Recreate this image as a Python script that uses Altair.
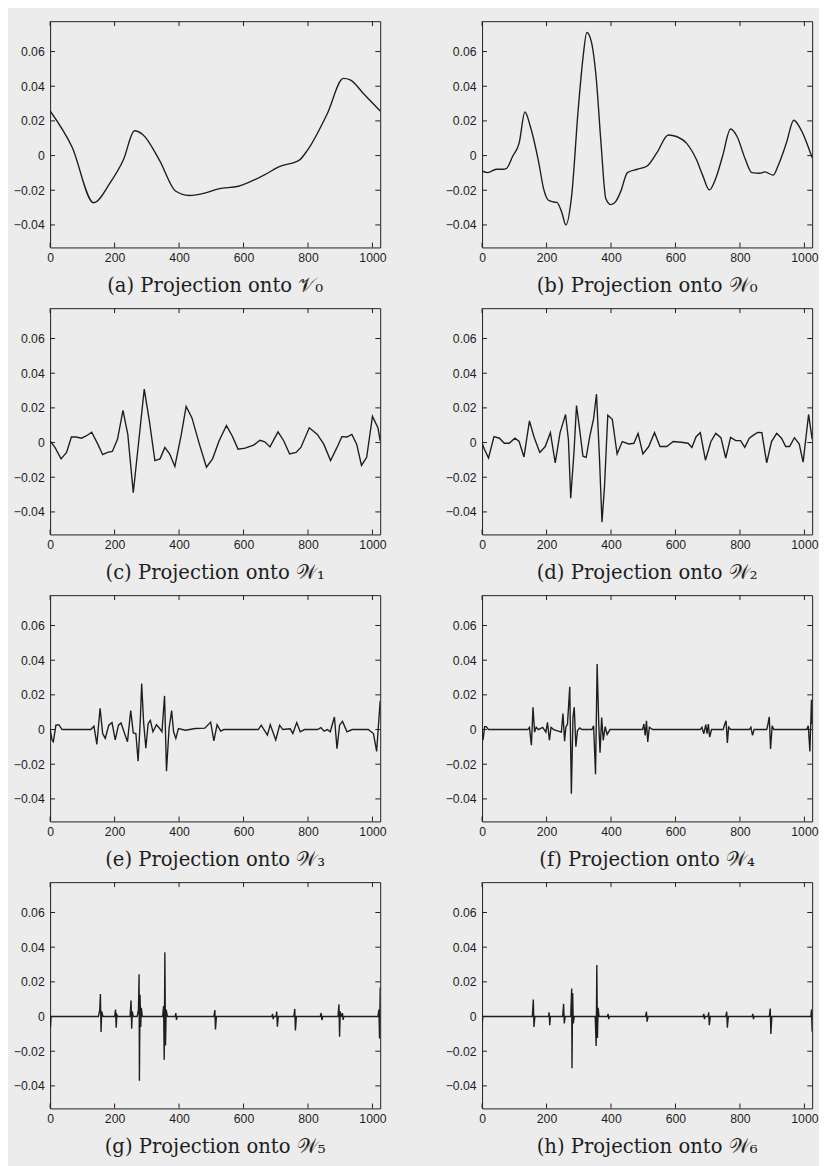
import altair as alt
import pandas as pd

# ---------------- data ----------------
captions = [
    "(a) Projection onto 𝒱₀", "(b) Projection onto 𝒲₀",
    "(c) Projection onto 𝒲₁", "(d) Projection onto 𝒲₂",
    "(e) Projection onto 𝒲₃", "(f) Projection onto 𝒲₄",
    "(g) Projection onto 𝒲₅", "(h) Projection onto 𝒲₆",
]
x_ticks = [0, 200, 400, 600, 800, 1000]
y_ticks = [-0.04, -0.02, 0, 0.02, 0.04, 0.06]

a_x = [0, 68, 135, 186, 227, 262, 288, 339, 390, 431, 482, 522, 584, 665, 711, 773, 798, 859, 910, 931, 971, 1024]
a_y = [0.0257, 0.0049, -0.0272, -0.0158, -0.0026, 0.0143, 0.012, -0.0026, -0.0206, -0.023, -0.0215, -0.0192,
       -0.0177, -0.0111, -0.0064, -0.0026, 0.003, 0.0238, 0.0445, 0.0436, 0.036, 0.0257]

b_x = [0, 18, 44, 64, 75, 95, 115, 133, 150, 176, 191, 206, 222, 232, 247, 260, 278, 298, 313, 325, 339, 354,
       369, 384, 400, 415, 430, 451, 481, 512, 542, 578, 603, 634, 665, 685, 705, 726, 746, 771, 791, 817, 837,
       862, 877, 903, 918, 944, 967, 990, 1024]
b_y = [-0.0089, -0.0098, -0.0079, -0.0079, -0.0075, -0.0004, 0.0072, 0.0251, 0.0166, -0.0042, -0.0192, -0.0258,
       -0.0268, -0.027, -0.0325, -0.04, -0.023, 0.026, 0.0562, 0.071, 0.0657, 0.0449, 0.0072, -0.0249, -0.0283,
       -0.0264, -0.0208, -0.0098, -0.0079, -0.006, 0.0015, 0.0119, 0.011, 0.0072, -0.0023, -0.0117, -0.0198,
       -0.0126, -0.0004, 0.0153, 0.011, -0.0023, -0.0098, -0.0102, -0.0094, -0.0113, -0.006, 0.0072, 0.0204,
       0.0147, -0.0013]

c_x = [0, 15, 34, 51, 66, 81, 97, 112, 129, 148, 163, 178, 193, 209, 226, 241, 258, 275, 292, 308, 325, 341,
       356, 371, 387, 407, 422, 440, 463, 485, 504, 524, 547, 565, 583, 605, 631, 651, 666, 682, 707, 725, 743,
       763, 778, 804, 829, 849, 870, 890, 905, 921, 936, 951, 966, 982, 1000, 1017, 1024]
c_y = [0.001, -0.0028, -0.0094, -0.0057, 0.0032, 0.0032, 0.0025, 0.0038, 0.006, -0.0009, -0.007, -0.0057,
       -0.0051, 0.0019, 0.0185, 0.0047, -0.0289, 0.0009, 0.0308, 0.0123, -0.0104, -0.0094, -0.0028, -0.0066,
       -0.0138, 0.0047, 0.0209, 0.0142, -0.0009, -0.0142, -0.0094, 0.0009, 0.0098, 0.0038, -0.0038, -0.0032,
       -0.0015, 0.0013, 0.0004, -0.0025, 0.0062, 0.0009, -0.0066, -0.0057, -0.0028, 0.0085, 0.0047, -0.0009,
       -0.0104, -0.0028, 0.0034, 0.0032, 0.0047, -0.0009, -0.0132, -0.0085, 0.0151, 0.0085, 0.001]

d_x = [0, 8, 20, 37, 54, 69, 84, 102, 115, 130, 147, 161, 179, 196, 212, 227, 242, 252, 259, 268, 275, 285,
       293, 303, 313, 323, 334, 346, 355, 364, 372, 380, 390, 404, 419, 435, 455, 471, 484, 499, 517, 535, 552,
       573, 593, 618, 639, 651, 664, 677, 693, 710, 725, 741, 756, 771, 787, 802, 815, 829, 842, 855, 868, 883,
       898, 914, 929, 942, 954, 969, 984, 996, 1013, 1024]
d_y = [-0.0004, -0.0042, -0.0089, 0.0034, 0.0025, -0.0004, -0.0004, 0.0025, 0.0006, -0.0083, 0.0125, 0.0034,
       -0.0057, -0.0023, 0.0057, -0.0117, 0.0057, 0.0119, 0.0162, 0.0015, -0.0321, -0.006, 0.0213, 0.0072,
       -0.0079, -0.0085, 0.0034, 0.0138, 0.0279, -0.0079, -0.046, -0.0249, 0.0157, 0.0134, -0.0066, 0.0006,
       -0.0008, -0.0004, 0.0053, -0.0066, -0.0023, 0.0057, -0.0023, -0.0023, 0.0006, 0.0002, -0.0004, -0.0028,
       0.0034, 0.0057, -0.0102, 0.0006, 0.0053, 0.0028, -0.0089, 0.003, 0.0011, 0.0011, -0.0028, 0.0025, 0.0043,
       0.0058, 0.0057, -0.0117, 0.0006, 0.0053, 0.0025, -0.0023, -0.0023, 0.0028, -0.0009, -0.0113, 0.0162, 0.002]

e_x = [0, 6, 10, 18, 27, 37, 126, 136, 145, 155, 163, 171, 182, 192, 202, 212, 220, 231, 240, 250, 258, 266,
       273, 280, 284, 290, 297, 304, 311, 319, 330, 340, 347, 355, 361, 369, 377, 383, 390, 398, 420, 450, 480,
       498, 508, 518, 529, 539, 646, 655, 674, 683, 700, 712, 722, 745, 753, 765, 776, 789, 830, 840, 850, 860,
       869, 882, 890, 898, 907, 921, 937, 987, 1003, 1013, 1020, 1024]
e_y = [0, -0.006, -0.007, 0.0025, 0.0028, 0, 0, 0.0019, -0.0085, 0.0123, -0.0023, -0.0051, 0.0025, 0.004,
       -0.006, 0.0025, 0.0038, -0.0023, -0.007, 0.0109, -0.0019, -0.0023, -0.0183, 0.0062, 0.0266, 0.0043,
       -0.0108, 0.0034, 0.0053, -0.0013, 0.0028, 0.0006, -0.0013, 0.0194, -0.024, 0.0006, 0.0109, -0.0013,
       -0.0051, 0.0006, -0.0004, 0.0006, 0.0008, 0.0043, -0.0066, 0.0028, -0.0009, 0, 0, 0.0025, -0.0032,
       0.0028, -0.006, 0.0025, 0, 0.0004, -0.0023, 0.004, -0.0013, 0, 0, 0.0011, -0.0009, 0, -0.0013, 0.0072,
       -0.0111, 0.0025, 0.0047, -0.0013, 0, 0, -0.0023, -0.0126, 0.0062, 0.0166]

f_x = [0, 3, 8, 13, 20, 142, 147, 153, 158, 163, 168, 175, 188, 198, 203, 209, 214, 222, 246, 251, 256, 260,
       265, 272, 277, 282, 286, 291, 296, 303, 310, 341, 346, 352, 357, 362, 366, 371, 376, 382, 388, 397, 498,
       502, 506, 510, 514, 519, 529, 677, 682, 688, 694, 698, 702, 706, 712, 748, 753, 757, 761, 765, 771, 829,
       834, 839, 844, 883, 887, 891, 895, 900, 905, 1007, 1012, 1017, 1022, 1024]
f_y = [0, -0.0062, 0.0017, 0.0017, 0, 0, 0.0013, -0.009, 0.0129, -0.0015, 0.0013, 0, 0.0013, -0.0015, 0.0041,
       -0.0062, 0.0013, 0, -0.0015, 0.0092, -0.0067, 0.0013, 0.0032, 0.0247, -0.037, 0.0069, 0.0129, -0.0099,
       -0.0006, 0.0009, 0, 0, 0.0022, -0.0258, 0.0378, 0.0032, -0.0133, 0.0069, -0.0062, 0.0017, -0.0028, 0, 0,
       0.0032, -0.0034, 0.005, -0.0071, 0.0013, 0, 0, 0.0013, -0.0024, 0.0028, -0.0024, 0.0032, -0.0043, 0, 0,
       0.0032, 0.005, -0.0077, 0.0013, 0, 0, 0.0013, -0.0034, 0, 0, 0.0032, 0.0073, -0.0112, 0.0022, 0, 0,
       0.0022, -0.0127, 0.0172, 0.003]

g_x = [0, 1, 3, 150, 154, 156, 158, 160, 164, 200, 203, 205, 207, 210, 248, 251, 253, 255, 258, 270, 274, 276,
       277, 279, 281, 283, 286, 349, 352, 354, 356, 358, 360, 364, 388, 390, 392, 394, 508, 511, 513, 516, 688,
       690, 692, 694, 701, 703, 705, 708, 756, 759, 761, 764, 838, 841, 843, 846, 893, 896, 898, 900, 903, 905,
       907, 909, 911, 1017, 1020, 1022, 1024]
g_y = [0, -0.0065, 0, 0, 0.004, 0.013, -0.0089, 0.003, 0, 0, 0.004, -0.0065, 0.001, 0, 0, 0.0093, -0.007,
       0.003, 0, 0, 0.004, 0.0244, -0.037, 0.0126, -0.006, 0.005, 0, 0, 0.006, -0.025, 0.037, -0.0167, 0.004, 0,
       0, 0.002, -0.002, 0, 0, 0.0037, -0.0074, 0, 0, 0.0015, -0.0015, 0, 0, 0.0028, -0.0059, 0, 0, 0.0044,
       -0.008, 0, 0, 0.002, -0.002, 0, 0, 0.007, -0.0117, 0.003, 0, 0, 0.002, -0.002, 0, 0, 0.004, -0.0126,
       0.0167]

h_x = [0, 2, 156, 159, 161, 164, 206, 208, 210, 212, 250, 253, 255, 258, 275, 278, 279, 281, 283, 286, 351,
       354, 356, 358, 360, 363, 389, 391, 393, 395, 507, 510, 512, 515, 686, 688, 690, 692, 701, 703, 705, 708,
       756, 759, 761, 764, 838, 840, 842, 844, 891, 894, 896, 899, 1020, 1022, 1024]
h_y = [-0.0068, 0, 0, 0.0098, -0.006, 0, 0, 0.0024, -0.005, 0, 0, 0.0074, -0.004, 0, 0, 0.0162, -0.0299,
       0.0135, -0.004, 0, 0, -0.017, 0.0297, -0.0124, 0.005, 0, 0, 0.0015, -0.0015, 0, 0, 0.0028, -0.003, 0, 0,
       0.0015, -0.0015, 0, 0, 0.0024, -0.005, 0, 0, 0.0028, -0.0065, 0, 0, 0.0015, -0.0015, 0, 0, 0.0046,
       -0.0101, 0, 0, 0.004, -0.0087]

series = [(a_x, a_y), (b_x, b_y), (c_x, c_y), (d_x, d_y),
          (e_x, e_y), (f_x, f_y), (g_x, g_y), (h_x, h_y)]
smooth = [True, True, False, False, False, False, False, False]

# ---------------- styling ----------------
W, H = 337, 231
X_DOM = [0, 1024]
Y_DOM = [-0.053, 0.0775]
INK = "#1e1e1e"
TICK = 5
SANS = "Liberation Sans"
SERIF = "DejaVu Serif"


def panel(xs, ys, cap, smooth_line):
    df = pd.DataFrame({"x": xs, "y": ys})
    xt = pd.DataFrame({"t": x_ticks})
    yt = pd.DataFrame({"t": y_ticks})
    xsc = alt.Scale(domain=X_DOM, nice=False, zero=False)
    ysc = alt.Scale(domain=Y_DOM, nice=False, zero=False)
    x_axis = alt.Axis(values=x_ticks, ticks=False, domain=False, grid=False,
                      format="d", labelPadding=4, labelFont=SANS, labelFontSize=12.5,
                      labelColor=INK, labelFlush=False)
    y_axis = alt.Axis(values=y_ticks, ticks=False, domain=False, grid=False,
                      labelPadding=6, labelFont=SANS, labelFontSize=12.5, labelColor=INK,
                      labelFlush=False,
                      labelExpr="abs(datum.value) < 1e-9 ? '0' : replace(format(datum.value, '.2f'), '-', '\u2212')")
    line = alt.Chart(df).mark_line(
        color=INK, strokeWidth=1.4, clip=True,
        interpolate="monotone" if smooth_line else "linear",
    ).encode(
        x=alt.X("x:Q", scale=xsc, title=None, axis=x_axis),
        y=alt.Y("y:Q", scale=ysc, title=None, axis=y_axis),
    )
    bot = alt.Chart(xt).mark_rule(color=INK, strokeWidth=1).encode(
        x=alt.X("t:Q", scale=xsc, title=None, axis=x_axis), y=alt.value(H), y2=alt.value(H - TICK))
    top = alt.Chart(xt).mark_rule(color=INK, strokeWidth=1).encode(
        x=alt.X("t:Q", scale=xsc, title=None, axis=x_axis), y=alt.value(0), y2=alt.value(TICK))
    left = alt.Chart(yt).mark_rule(color=INK, strokeWidth=1).encode(
        y=alt.Y("t:Q", scale=ysc, title=None, axis=y_axis), x=alt.value(0), x2=alt.value(TICK))
    right = alt.Chart(yt).mark_rule(color=INK, strokeWidth=1).encode(
        y=alt.Y("t:Q", scale=ysc, title=None, axis=y_axis), x=alt.value(W - TICK), x2=alt.value(W))
    return alt.layer(line, bot, top, left, right).properties(
        width=W, height=H,
        title=alt.TitleParams(cap, orient="bottom", font=SERIF, fontSize=20,
                              fontWeight="normal", color=INK, offset=13),
    )


panels = [panel(xs, ys, cap, sm) for (xs, ys), cap, sm in zip(series, captions, smooth)]
rows = [alt.hconcat(panels[i], panels[i + 1], spacing=58) for i in range(0, 8, 2)]
chart = alt.vconcat(*rows, spacing=11).properties(
    padding={"left": 4, "top": 0, "right": 0, "bottom": 30},
    background="#ececec",
).configure_view(
    stroke=INK, strokeWidth=1
)

chart.save("out.html", embed_options={"renderer": "svg", "actions": False})
